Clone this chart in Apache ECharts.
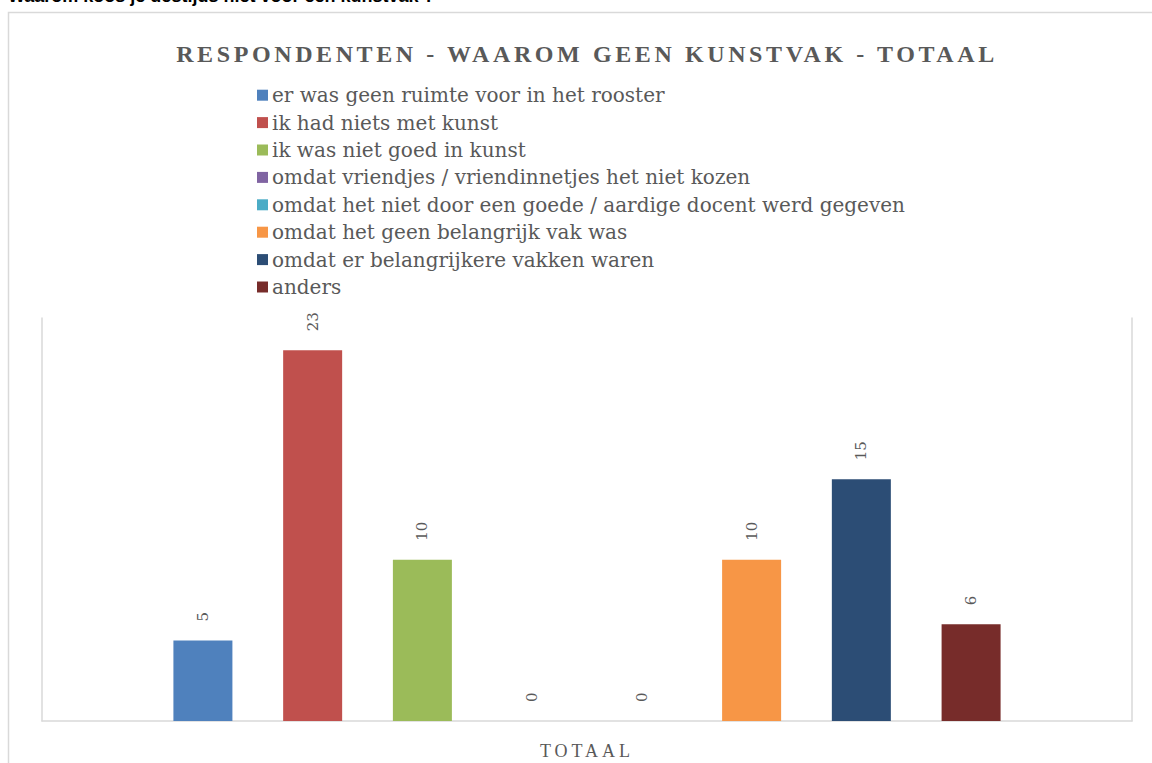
<!DOCTYPE html>
<html>
<head>
<meta charset="utf-8">
<title>Respondenten - waarom geen kunstvak</title>
<script src="https://cdn.jsdelivr.net/npm/echarts@6/dist/echarts.min.js"></script>
<style>
  html, body { margin: 0; padding: 0; background: #fff; }
  #chart { width: 1152px; height: 763px; }
</style>
</head>
<body>
<div id="chart"></div>
<script>
// data
const categories = ['TOTAAL']
const seriesNames = [
  'er was geen ruimte voor in het rooster',
  'ik had niets met kunst',
  'ik was niet goed in kunst',
  'omdat vriendjes / vriendinnetjes het niet kozen',
  'omdat het niet door een goede / aardige docent werd gegeven',
  'omdat het geen belangrijk vak was',
  'omdat er belangrijkere vakken waren',
  'anders'
]
const seriesValues = [5, 23, 10, 0, 0, 10, 15, 6]
const colors = ['#4F81BD', '#C0504D', '#9BBB59', '#8064A2', '#4BACC6', '#F79646', '#2C4D75', '#772C2A']

const heading = 'Waarom koos je destijds niet voor een kunstvak ?'
const chartTitle = 'RESPONDENTEN - WAAROM GEEN KUNSTVAK - TOTAAL'

const serif = '"Liberation Serif", "DejaVu Serif", serif'
const wideSerif = '"DejaVu Serif", serif'
const grey = '#595959'

const chart = echarts.init(document.getElementById('chart'), null, { renderer: 'svg' })

const option = {
  animation: false,
  color: colors,
  graphic: [
    {
      type: 'rect',
      shape: { x: 8.5, y: 12.5, width: 1300, height: 900 },
      style: { fill: 'none', stroke: '#d9d9d9', lineWidth: 1.5 },
      silent: true
    },
    {
      type: 'text',
      left: 8,
      top: -13,
      style: {
        text: heading,
        font: 'bold 18px "Liberation Sans", Arial, sans-serif',
        fill: '#000'
      },
      silent: true
    },
    {
      type: 'text',
      x: 587,
      y: 53.5,
      style: {
        text: chartTitle,
        font: 'bold 24px ' + serif,
        fill: grey,
        align: 'center',
        verticalAlign: 'middle'
      },
      silent: true
    }
  ],
  legend: {
    orient: 'vertical',
    left: 252,
    top: 76.5,
    itemWidth: 11,
    itemHeight: 11,
    itemGap: 0,
    icon: 'rect',
    textStyle: {
      fontFamily: wideSerif,
      fontSize: 20,
      color: grey,
      lineHeight: 27.4,
      padding: [0, 0, 0, -1]
    },
    data: seriesNames
  },
  grid: {
    left: 42,
    right: 20,
    top: 318,
    bottom: 42
  },
  xAxis: {
    type: 'category',
    data: categories,
    axisLine: { lineStyle: { color: '#d9d9d9', width: 1.5 } },
    axisTick: { show: false },
    axisLabel: {
      margin: 21,
      fontFamily: serif,
      fontSize: 18,
      color: grey
    }
  },
  yAxis: [
    {
      type: 'value',
      min: 0,
      max: 25,
      axisLine: { show: true, lineStyle: { color: '#d9d9d9', width: 1.5 } },
      axisLabel: { show: false },
      axisTick: { show: false },
      splitLine: { show: false }
    },
    {
      type: 'value',
      position: 'right',
      min: 0,
      max: 25,
      axisLine: { show: true, lineStyle: { color: '#d9d9d9', width: 1.5 } },
      axisLabel: { show: false },
      axisTick: { show: false },
      splitLine: { show: false }
    }
  ],
  series: seriesNames.map((name, i) => ({
    name: name,
    type: 'bar',
    barWidth: 59,
    barGap: '86%',
    label: {
      show: true,
      position: 'top',
      rotate: 90,
      align: 'left',
      verticalAlign: 'middle',
      distance: 19,
      fontFamily: wideSerif,
      fontSize: 15,
      color: grey
    },
    data: [seriesValues[i]]
  }))
}

chart.setOption(option)

// letter spacing for the title and the category label
function spaceLetters() {
  chart.getDom().querySelectorAll('text').forEach(t => {
    if (t.textContent === chartTitle) t.style.letterSpacing = '3.6px'
    if (t.textContent === 'TOTAAL') t.style.letterSpacing = '4px'
  })
}
chart.on('finished', spaceLetters)
spaceLetters()
</script>
</body>
</html>
